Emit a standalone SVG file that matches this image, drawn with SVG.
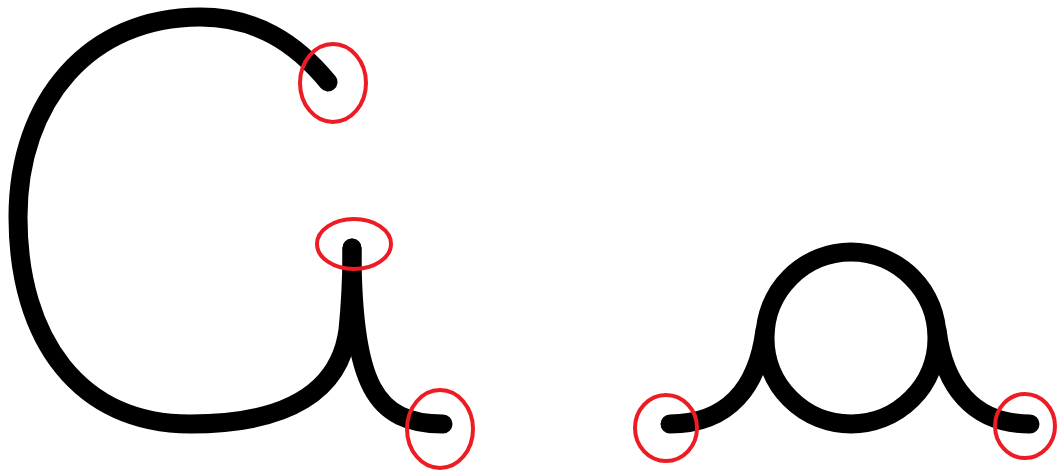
<svg xmlns="http://www.w3.org/2000/svg" width="1061" height="473" viewBox="0 0 1061 473">
<style>
.s{fill:none;stroke:#000;stroke-width:19;stroke-linecap:round;stroke-linejoin:round}
.r{fill:none;stroke:#ed1c24;stroke-width:4}
</style>
<rect width="1061" height="473" fill="#fff"/>
<g id="letter-g">
<path class="s" d="M328,82 C295,42 255,17 200,17 C90,17 18,100 18,217 C18,340 80,424 190,424 C290,424 340,390 348,330 C351,300 352,270 352,248"/>
<path class="s" d="M352,248 C352,385 375,424 443,424"/>
</g>
<g id="letter-a">
<circle class="s" cx="851" cy="338" r="86"/>
<path class="s" d="M670,424 C730,424 758,385 765,330"/>
<path class="s" d="M1030,424 C972,424 944,385 937,330"/>
</g>
<g id="marks">
<ellipse class="r" cx="333" cy="83" rx="33" ry="39"/>
<ellipse class="r" cx="354" cy="244" rx="37" ry="25"/>
<ellipse class="r" cx="440" cy="429" rx="33" ry="39"/>
<ellipse class="r" cx="666" cy="428" rx="31" ry="33"/>
<ellipse class="r" cx="1025" cy="426" rx="30" ry="32"/>
</g>
</svg>
